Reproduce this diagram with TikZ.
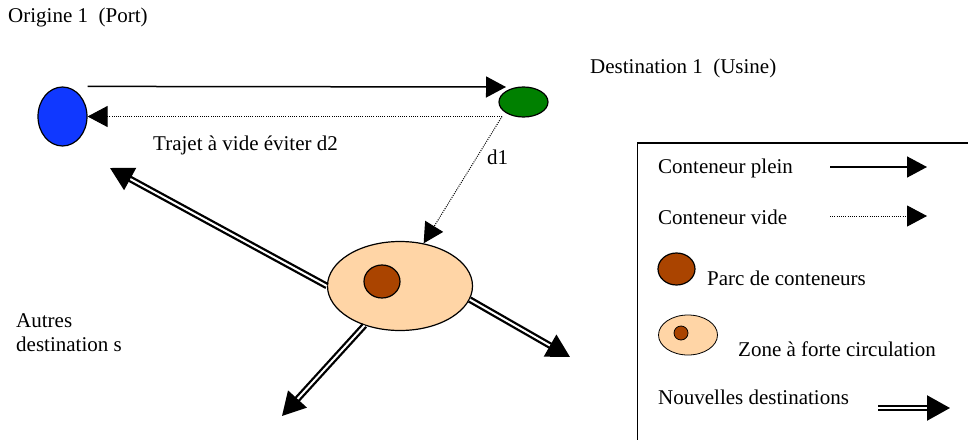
\documentclass[tikz,border=0pt]{standalone}
\usepackage{fontspec}
\setmainfont{Liberation Serif}
\usepackage{xcolor}
\usepackage{tikz}
\usetikzlibrary{arrows.meta,shapes.geometric}

\definecolor{portblue}{RGB}{16,56,255}
\definecolor{usinegreen}{RGB}{0,128,0}
\definecolor{zonepeach}{RGB}{255,213,166}
\definecolor{parcbrown}{RGB}{170,68,0}

\begin{document}
\begin{tikzpicture}[x=1pt,y=-1pt,
  every node/.style={font=\fontsize{21}{24}\selectfont},
  lbl/.style={anchor=west,inner sep=0pt},
  spot/.style={ellipse,draw,line width=1.2pt,inner sep=0pt},
  plein/.style={line width=1.5pt,-{Triangle[length=20pt,width=21pt]}},
  vide/.style={line width=1pt,dash pattern=on 1pt off 1.2pt,-{Triangle[length=20pt,width=21pt]}},
  nouvelle/.style={double,line width=2.3pt,double distance=2pt,-{Triangle[length=23pt,width=25pt]}}]
\useasboundingbox (0,0) rectangle (968,439);

% places
\node[spot,fill=portblue,minimum width=49pt,minimum height=59pt] (port) at (62.5,116.5) {};
\node[spot,fill=usinegreen,minimum width=49pt,minimum height=30pt] (usine) at (523.5,102) {};
\node[spot,fill=zonepeach,minimum width=145pt,minimum height=89pt] (zone) at (400,286) {};
\node[spot,fill=parcbrown,minimum width=36pt,minimum height=33pt] (parc) at (382,281.5) {};

\node[lbl] (origine) at (8,17) {Origine 1\ \ (Port)};
\node[lbl] (destination) at (590,68) {Destination 1\ \ (Usine)};
\node[lbl] (trajet) at (153,145) {Trajet à vide éviter d2};
\node[lbl] (dun) at (487,157) {d1};
\node[lbl,align=left] (autres) at (16,333) {Autres\\destination s};

% trajets
\coordinate (plein end) at (506,87);
\coordinate (vide start) at (502,116.5);
\draw[plein] (port.east |- port.north) -- (plein end);
\draw[vide] (vide start) -- (port.east);
\draw[vide] (vide start) -- (zone.61);

% nouvelles destinations
\coordinate (nd1) at (110,168);
\coordinate (nd2) at (282,416);
\coordinate (nd3) at (570,357);
\draw[nouvelle] (zone.180) -- (nd1);
\draw[nouvelle] (zone.228) -- (nd2);
\draw[nouvelle] (zone.-11) -- (nd3);

% legende
\begin{scope}
\clip (0,0) rectangle (968,439);
\draw[line width=1.5pt] (637.5,143) rectangle (1000,480);
\end{scope}
\node[lbl] (l plein) at (658,168) {Conteneur plein};
\coordinate (lp a) at (830,167);
\coordinate (lp b) at (927,167);
\draw[plein] (lp a) -- (lp b);

\node[lbl] (l vide) at (658,217) {Conteneur vide};
\coordinate (lv a) at (830,216);
\coordinate (lv b) at (927,216);
\draw[vide] (lv a) -- (lv b);

\node[spot,fill=parcbrown,minimum width=37pt,minimum height=32pt] (l parc) at (676.5,269) {};
\node[lbl] (l parc txt) at (707,278) {Parc de conteneurs};

\node[spot,fill=zonepeach,line width=0.8pt,minimum width=59pt,minimum height=40pt] (l zone) at (688,335) {};
\node[spot,fill=parcbrown,line width=0.8pt,minimum width=14pt,minimum height=14pt] (l zone parc) at (681,333) {};
\node[lbl] (l zone txt) at (738,349) {Zone à forte circulation};

\node[lbl] (l nouv) at (658,397) {Nouvelles destinations};
\coordinate (ln a) at (878,408);
\coordinate (ln b) at (950,408);
\draw[nouvelle] (ln a) -- (ln b);
\end{tikzpicture}
\end{document}
